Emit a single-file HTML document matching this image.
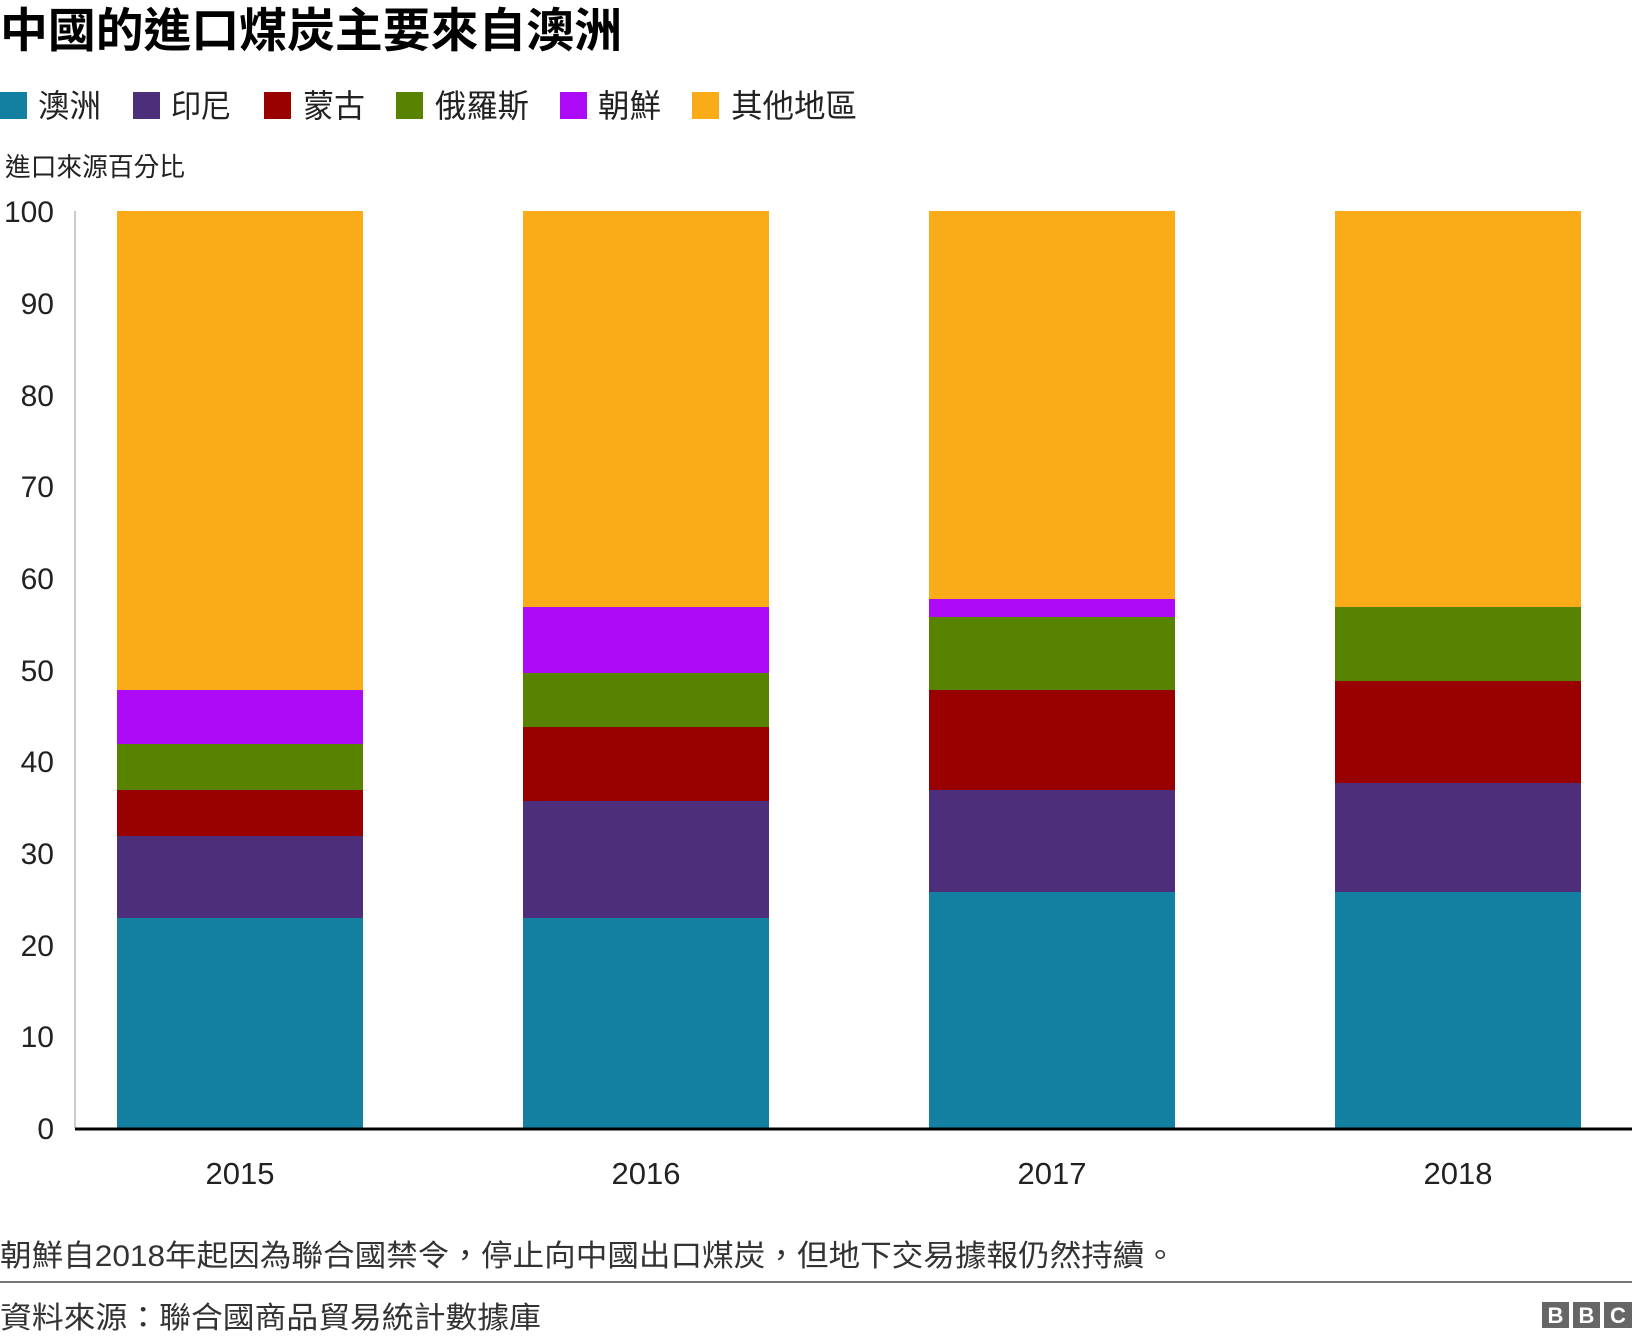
<!DOCTYPE html>
<html><head><meta charset="utf-8"><style>
html,body{margin:0;padding:0;background:#fff;}
svg{display:block;}
text{font-family:"Liberation Sans","Noto Sans CJK TC",sans-serif;}
</style></head><body>
<svg width="1632" height="1340" viewBox="0 0 1632 1340" xmlns="http://www.w3.org/2000/svg">
<text x="0" y="47" font-size="47" font-weight="bold" fill="#000" textLength="622" lengthAdjust="spacingAndGlyphs">中國的進口煤炭主要來自澳洲</text>
<g font-size="32" fill="#222">
<rect x="0" y="92" width="27" height="27" fill="#1380A1"/><text x="38" y="117" textLength="63" lengthAdjust="spacingAndGlyphs">澳洲</text>
<rect x="133" y="92" width="27" height="27" fill="#4D2E7A"/><text x="171" y="117" textLength="60" lengthAdjust="spacingAndGlyphs">印尼</text>
<rect x="264" y="92" width="27" height="27" fill="#990000"/><text x="303" y="117" textLength="62" lengthAdjust="spacingAndGlyphs">蒙古</text>
<rect x="396" y="92" width="27" height="27" fill="#588300"/><text x="435" y="117" textLength="94" lengthAdjust="spacingAndGlyphs">俄羅斯</text>
<rect x="560" y="92" width="27" height="27" fill="#AD0BF8"/><text x="598" y="117" textLength="63" lengthAdjust="spacingAndGlyphs">朝鮮</text>
<rect x="692" y="92" width="27" height="27" fill="#FAAB18"/><text x="731" y="117" textLength="126" lengthAdjust="spacingAndGlyphs">其他地區</text>
</g>
<text x="5" y="176" font-size="26" fill="#222" textLength="180" lengthAdjust="spacingAndGlyphs">進口來源百分比</text>
<line x1="75" y1="211" x2="75" y2="1128" stroke="#ccc" stroke-width="2"/>
<g font-size="30" fill="#222" text-anchor="end">
<text x="54" y="222">100</text><text x="54" y="314">90</text><text x="54" y="406">80</text><text x="54" y="497">70</text><text x="54" y="589">60</text><text x="54" y="681">50</text><text x="54" y="772">40</text><text x="54" y="864">30</text><text x="54" y="956">20</text><text x="54" y="1047">10</text><text x="54" y="1139">0</text>
</g>
<g>
<rect x="117" y="211" width="246" height="480" fill="#FAAB18"/>
<rect x="117" y="690" width="246" height="55" fill="#AD0BF8"/>
<rect x="117" y="744" width="246" height="47" fill="#588300"/>
<rect x="117" y="790" width="246" height="47" fill="#990000"/>
<rect x="117" y="836" width="246" height="83" fill="#4D2E7A"/>
<rect x="117" y="918" width="246" height="210" fill="#1380A1"/>
<rect x="523" y="211" width="246" height="397" fill="#FAAB18"/>
<rect x="523" y="607" width="246" height="67" fill="#AD0BF8"/>
<rect x="523" y="673" width="246" height="55" fill="#588300"/>
<rect x="523" y="727" width="246" height="75" fill="#990000"/>
<rect x="523" y="801" width="246" height="118" fill="#4D2E7A"/>
<rect x="523" y="918" width="246" height="210" fill="#1380A1"/>
<rect x="929" y="211" width="246" height="389" fill="#FAAB18"/>
<rect x="929" y="599" width="246" height="19" fill="#AD0BF8"/>
<rect x="929" y="617" width="246" height="74" fill="#588300"/>
<rect x="929" y="690" width="246" height="101" fill="#990000"/>
<rect x="929" y="790" width="246" height="103" fill="#4D2E7A"/>
<rect x="929" y="892" width="246" height="236" fill="#1380A1"/>
<rect x="1335" y="211" width="246" height="397" fill="#FAAB18"/>
<rect x="1335" y="607" width="246" height="75" fill="#588300"/>
<rect x="1335" y="681" width="246" height="103" fill="#990000"/>
<rect x="1335" y="783" width="246" height="110" fill="#4D2E7A"/>
<rect x="1335" y="892" width="246" height="236" fill="#1380A1"/>
</g>
<line x1="75" y1="1129" x2="1632" y2="1129" stroke="#000" stroke-width="3"/>
<g font-size="31" fill="#222" text-anchor="middle">
<text x="240" y="1184">2015</text><text x="646" y="1184">2016</text><text x="1052" y="1184">2017</text><text x="1458" y="1184">2018</text>
</g>
<text x="0" y="1266" font-size="30" fill="#333" textLength="1176" lengthAdjust="spacingAndGlyphs">朝鮮自2018年起因為聯合國禁令，停止向中國出口煤炭，但地下交易據報仍然持續。</text>
<line x1="0" y1="1282" x2="1632" y2="1282" stroke="#777" stroke-width="2"/>
<text x="0" y="1328" font-size="30" fill="#333" textLength="541" lengthAdjust="spacingAndGlyphs">資料來源：聯合國商品貿易統計數據庫</text>
<g font-size="22" font-weight="bold" fill="#fff" text-anchor="middle">
<rect x="1542" y="1302" width="27" height="26" fill="#666"/><text x="1555.5" y="1323">B</text>
<rect x="1573" y="1302" width="27" height="26" fill="#666"/><text x="1586.5" y="1323">B</text>
<rect x="1604" y="1302" width="28" height="26" fill="#666"/><text x="1618" y="1323">C</text>
</g>
</svg>
</body></html>
